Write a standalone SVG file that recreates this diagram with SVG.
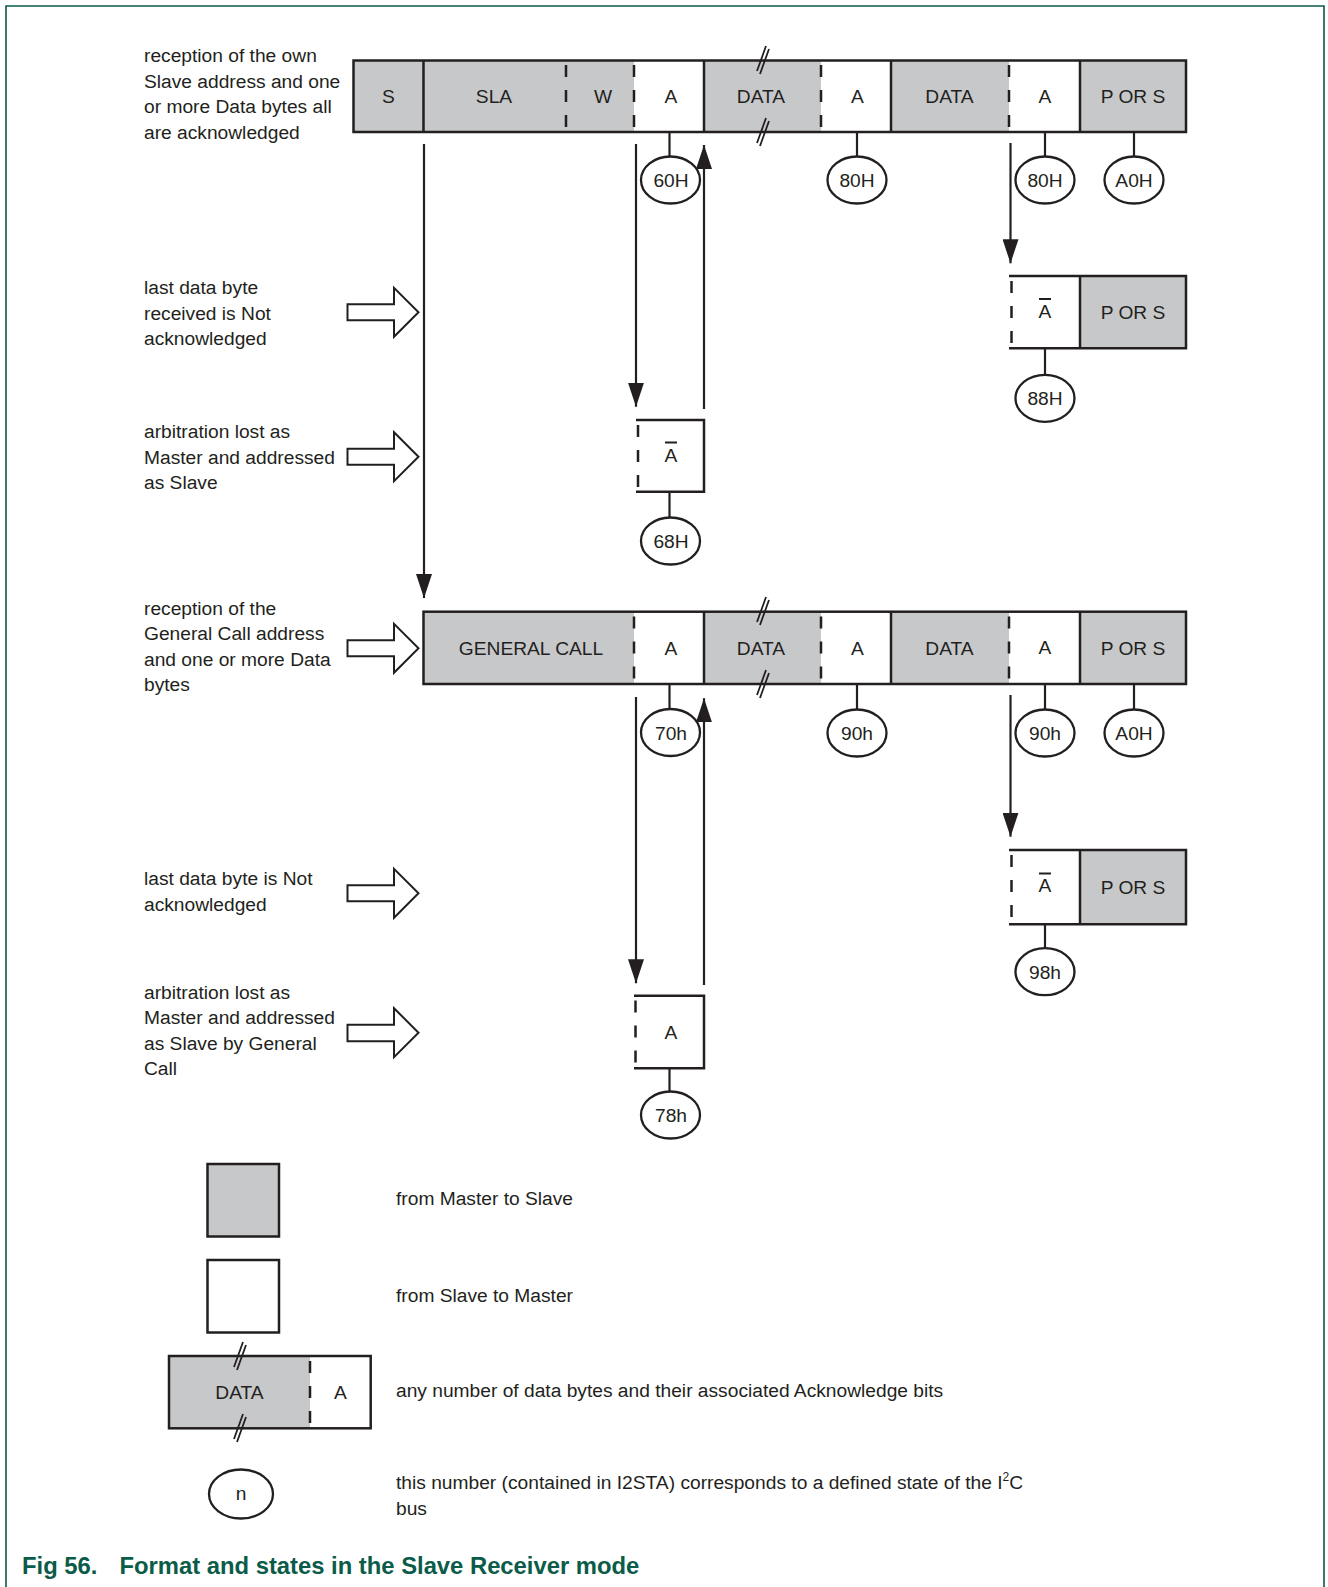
<svg xmlns="http://www.w3.org/2000/svg" width="1328" height="1587" viewBox="0 0 1328 1587">
<style>
.t{font-family:"Liberation Sans",Arial,Helvetica,sans-serif;font-size:19.2px;fill:#231f20}
.c{text-anchor:middle}
.g{fill:#c7c8ca;stroke:none}
.w{fill:#ffffff;stroke:none}
.ln{stroke:#231f20;stroke-width:2.5;fill:none}
.th{stroke:#231f20;stroke-width:2.2;fill:none}
.ds{stroke:#231f20;stroke-width:2.5;fill:none;stroke-dasharray:12 13}
.st{fill:#ffffff;stroke:#231f20;stroke-width:2.3}
.oa{fill:#ffffff;stroke:#231f20;stroke-width:2}
.bk{stroke:#231f20;stroke-width:1.8;fill:none}
.ol{stroke:#231f20;stroke-width:2}
.cap{font-family:"Liberation Sans",Arial,Helvetica,sans-serif;font-size:23.8px;font-weight:bold;fill:#0b5b49}
</style>
<defs>
<marker id="ah" markerUnits="userSpaceOnUse" markerWidth="24" markerHeight="16" viewBox="0 0 24 16" refX="24" refY="8" orient="auto">
<path d="M0,0 L24,8 L0,16 Z" fill="#231f20"/>
</marker>
</defs>

<rect width="1328" height="1587" fill="#ffffff"/>
<path d="M6,1587 V6 H1324 V1587" fill="none" stroke="#0b5b49" stroke-width="1.6"/>

<!-- left labels -->
<g id="lbl-own">
<text class="t" x="144" y="62">reception of the own</text>
<text class="t" x="144" y="87.5">Slave address and one</text>
<text class="t" x="144" y="113">or more Data bytes all</text>
<text class="t" x="144" y="138.5">are acknowledged</text>
</g>
<g id="lbl-nack1">
<text class="t" x="144" y="294">last data byte</text>
<text class="t" x="144" y="319.5">received is Not</text>
<text class="t" x="144" y="345">acknowledged</text>
</g>
<g id="lbl-arb1">
<text class="t" x="144" y="438">arbitration lost as</text>
<text class="t" x="144" y="463.5">Master and addressed</text>
<text class="t" x="144" y="489">as Slave</text>
</g>
<g id="lbl-gc">
<text class="t" x="144" y="614.5">reception of the</text>
<text class="t" x="144" y="640">General Call address</text>
<text class="t" x="144" y="665.5">and one or more Data</text>
<text class="t" x="144" y="691">bytes</text>
</g>
<g id="lbl-nack2">
<text class="t" x="144" y="885">last data byte is Not</text>
<text class="t" x="144" y="910.5">acknowledged</text>
</g>
<g id="lbl-arb2">
<text class="t" x="144" y="998.5">arbitration lost as</text>
<text class="t" x="144" y="1024">Master and addressed</text>
<text class="t" x="144" y="1049.5">as Slave by General</text>
<text class="t" x="144" y="1075">Call</text>
</g>

<!-- open block arrows -->
<g id="open-arrows">
<path class="oa" d="M347.5,304.3 H394 V287.8 L418.5,312.3 L394,336.8 V320.3 H347.5 Z"/>
<path class="oa" d="M347.5,448.7 H394 V432.2 L418.5,456.7 L394,481.2 V464.7 H347.5 Z"/>
<path class="oa" d="M347.5,640.3 H394 V623.8 L418.5,648.3 L394,672.8 V656.3 H347.5 Z"/>
<path class="oa" d="M347.5,885.3 H394 V868.8 L418.5,893.3 L394,917.8 V901.3 H347.5 Z"/>
<path class="oa" d="M347.5,1024.7 H394 V1008.2 L418.5,1032.7 L394,1057.2 V1041.2 H347.5 Z"/>
</g>

<!-- top frame bar -->
<g id="bar1">
<rect class="g" x="353.5" y="60.5" width="280.5" height="71.5"/>
<rect class="w" x="634" y="60.5" width="70" height="71.5"/>
<rect class="g" x="704" y="60.5" width="117" height="71.5"/>
<rect class="w" x="821" y="60.5" width="70" height="71.5"/>
<rect class="g" x="891" y="60.5" width="118" height="71.5"/>
<rect class="w" x="1009" y="60.5" width="71" height="71.5"/>
<rect class="g" x="1080" y="60.5" width="106" height="71.5"/>
<rect class="ln" x="353.5" y="60.5" width="832.5" height="71.5"/>
<line class="ln" x1="423.5" y1="60.5" x2="423.5" y2="132"/>
<line class="ln" x1="704" y1="60.5" x2="704" y2="132"/>
<line class="ln" x1="891" y1="60.5" x2="891" y2="132"/>
<line class="ln" x1="1080" y1="60.5" x2="1080" y2="132"/>
<line class="ds" x1="566" y1="65" x2="566" y2="128"/>
<line class="ds" x1="634" y1="65" x2="634" y2="128"/>
<line class="ds" x1="821" y1="65" x2="821" y2="128"/>
<line class="ds" x1="1009" y1="65" x2="1009" y2="128"/>
<text class="t c" x="388.5" y="102.5">S</text>
<text class="t c" x="494" y="102.5">SLA</text>
<text class="t c" x="603" y="102.5">W</text>
<text class="t c" x="671" y="102.5">A</text>
<text class="t c" x="761" y="102.5">DATA</text>
<text class="t c" x="857.5" y="102.5">A</text>
<text class="t c" x="949.5" y="102.5">DATA</text>
<text class="t c" x="1045" y="102.5">A</text>
<text class="t c" x="1133" y="102.5">P OR S</text>
<path class="bk" d="M757,71 L766,46 M760,74 L769,49 M757,143 L766,118 M760,146 L769,121"/>
</g>

<!-- top right NACK box -->
<g id="box-nack1">
<rect class="w" x="1010" y="276" width="70" height="72.3"/>
<rect class="g" x="1080" y="276" width="106" height="72.3"/>
<path class="ln" d="M1009,276 H1186 V348.3 H1009 M1080,276 V348.3"/>
<line class="ds" x1="1011.5" y1="281" x2="1011.5" y2="344"/>
<text class="t c" x="1045" y="318.3">A</text>
<line class="ol" x1="1039" y1="299" x2="1051" y2="299"/>
<text class="t c" x="1133" y="318.8">P OR S</text>
</g>

<!-- 68H box -->
<g id="box-68">
<path class="ln" d="M636,420 H704 V491.7 H636"/>
<line class="ds" x1="638" y1="425" x2="638" y2="488"/>
<text class="t c" x="671" y="461.7">A</text>
<line class="ol" x1="665" y1="442.5" x2="677" y2="442.5"/>
</g>

<!-- bottom frame bar -->
<g id="bar2">
<rect class="g" x="423.5" y="611.7" width="210.5" height="72.3"/>
<rect class="w" x="634" y="611.7" width="70" height="72.3"/>
<rect class="g" x="704" y="611.7" width="117" height="72.3"/>
<rect class="w" x="821" y="611.7" width="70" height="72.3"/>
<rect class="g" x="891" y="611.7" width="118" height="72.3"/>
<rect class="w" x="1009" y="611.7" width="71" height="72.3"/>
<rect class="g" x="1080" y="611.7" width="106" height="72.3"/>
<rect class="ln" x="423.5" y="611.7" width="762.5" height="72.3"/>
<line class="ln" x1="704" y1="611.7" x2="704" y2="684"/>
<line class="ln" x1="891" y1="611.7" x2="891" y2="684"/>
<line class="ln" x1="1080" y1="611.7" x2="1080" y2="684"/>
<line class="ds" x1="634" y1="616.5" x2="634" y2="679.5"/>
<line class="ds" x1="821" y1="616.5" x2="821" y2="679.5"/>
<line class="ds" x1="1009" y1="616.5" x2="1009" y2="679.5"/>
<text class="t c" x="531" y="655">GENERAL CALL</text>
<text class="t c" x="671" y="655">A</text>
<text class="t c" x="761" y="655">DATA</text>
<text class="t c" x="857.5" y="655">A</text>
<text class="t c" x="949.5" y="655">DATA</text>
<text class="t c" x="1045" y="654">A</text>
<text class="t c" x="1133" y="655">P OR S</text>
<path class="bk" d="M757,622 L766,597 M760,625 L769,600 M757,695 L766,670 M760,698 L769,673"/>
</g>

<!-- bottom right NACK box -->
<g id="box-nack2">
<rect class="w" x="1010" y="850" width="70" height="74.3"/>
<rect class="g" x="1080" y="850" width="106" height="74.3"/>
<path class="ln" d="M1009,850 H1186 V924.3 H1009 M1080,850 V924.3"/>
<line class="ds" x1="1011.5" y1="855" x2="1011.5" y2="920"/>
<text class="t c" x="1045" y="891.7">A</text>
<line class="ol" x1="1039" y1="873.5" x2="1051" y2="873.5"/>
<text class="t c" x="1133" y="893.5">P OR S</text>
</g>

<!-- 78h box -->
<g id="box-78">
<path class="ln" d="M634,995.7 H704 V1068.3 H634"/>
<line class="ds" x1="635.5" y1="1000.5" x2="635.5" y2="1064"/>
<text class="t c" x="671" y="1038.5">A</text>
</g>

<!-- connectors -->
<g id="connectors">
<line class="th" x1="424" y1="144" x2="424" y2="598" marker-end="url(#ah)"/>
<line class="th" x1="636" y1="144" x2="636" y2="406.7" marker-end="url(#ah)"/>
<line class="th" x1="704" y1="409" x2="704" y2="145" marker-end="url(#ah)"/>
<line class="th" x1="1010.5" y1="143" x2="1010.5" y2="263.3" marker-end="url(#ah)"/>
<line class="th" x1="636" y1="697" x2="636" y2="983.3" marker-end="url(#ah)"/>
<line class="th" x1="704" y1="985" x2="704" y2="698.3" marker-end="url(#ah)"/>
<line class="th" x1="1010.5" y1="695" x2="1010.5" y2="836.7" marker-end="url(#ah)"/>
<path class="th" d="M669.5,132 V156.5 M857,132 V156.5 M1045,132 V156.5 M1134,132 V156.5 M1045,348.3 V374.8 M669.5,491.7 V517.5 M669.5,684 V709 M857,684 V709.5 M1045,684 V709.5 M1134,684 V709.5 M1045,924.3 V948.2 M669.5,1068.3 V1091.5"/>
</g>

<!-- state circles -->
<g id="s-60H"><ellipse class="st" cx="670.5" cy="180" rx="29.5" ry="23.5"/><text class="t c" x="671" y="187">60H</text></g>
<g id="s-80H-a"><ellipse class="st" cx="857" cy="180" rx="29.5" ry="23.5"/><text class="t c" x="857" y="187">80H</text></g>
<g id="s-80H-b"><ellipse class="st" cx="1045" cy="180" rx="29.5" ry="23.5"/><text class="t c" x="1045" y="187">80H</text></g>
<g id="s-A0H-a"><ellipse class="st" cx="1134" cy="180" rx="29.5" ry="23.5"/><text class="t c" x="1134" y="187">A0H</text></g>
<g id="s-88H"><ellipse class="st" cx="1045" cy="398.3" rx="29.5" ry="23.5"/><text class="t c" x="1045" y="405.3">88H</text></g>
<g id="s-68H"><ellipse class="st" cx="670.5" cy="541" rx="29.5" ry="23.5"/><text class="t c" x="671" y="548">68H</text></g>
<g id="s-70h"><ellipse class="st" cx="670.5" cy="732.5" rx="29.5" ry="23.5"/><text class="t c" x="671" y="739.5">70h</text></g>
<g id="s-90h-a"><ellipse class="st" cx="857" cy="733" rx="29.5" ry="23.5"/><text class="t c" x="857" y="740">90h</text></g>
<g id="s-90h-b"><ellipse class="st" cx="1045" cy="733" rx="29.5" ry="23.5"/><text class="t c" x="1045" y="740">90h</text></g>
<g id="s-A0H-b"><ellipse class="st" cx="1134" cy="733" rx="29.5" ry="23.5"/><text class="t c" x="1134" y="740">A0H</text></g>
<g id="s-98h"><ellipse class="st" cx="1045" cy="971.7" rx="29.5" ry="23.5"/><text class="t c" x="1045" y="978.7">98h</text></g>
<g id="s-78h"><ellipse class="st" cx="670.5" cy="1115" rx="29.5" ry="23.5"/><text class="t c" x="671" y="1122">78h</text></g>

<!-- legend -->
<g id="leg-master">
<rect x="207.5" y="1164" width="71.5" height="72.5" fill="#c7c8ca" stroke="#231f20" stroke-width="2.5"/>
<text class="t" x="396" y="1205">from Master to Slave</text>
</g>
<g id="leg-slave">
<rect x="207.5" y="1260" width="71.5" height="72.5" fill="#ffffff" stroke="#231f20" stroke-width="2.5"/>
<text class="t" x="396" y="1301.5">from Slave to Master</text>
</g>
<g id="leg-data">
<rect class="g" x="169" y="1356" width="141" height="72.3"/>
<rect class="w" x="310" y="1356" width="60.7" height="72.3"/>
<rect class="ln" x="169" y="1356" width="201.7" height="72.3"/>
<line class="ds" x1="310" y1="1361" x2="310" y2="1424"/>
<text class="t c" x="239.5" y="1399">DATA</text>
<text class="t c" x="340.5" y="1399">A</text>
<path class="bk" d="M234,1367 L243,1342 M237,1370 L246,1345 M234,1439 L243,1414 M237,1442 L246,1417"/>
<text class="t" x="396" y="1397">any number of data bytes and their associated Acknowledge bits</text>
</g>
<g id="leg-state">
<ellipse class="st" cx="241" cy="1494" rx="32" ry="24.5"/>
<text class="t c" x="241" y="1499.5">n</text>
<text class="t" x="396" y="1489">this number (contained in I2STA) corresponds to a defined state of the I<tspan dy="-8" font-size="12">2</tspan><tspan dy="8">C</tspan></text>
<text class="t" x="396" y="1514.5">bus</text>
</g>

<g id="caption">
<text class="cap" x="22" y="1574">Fig 56.<tspan x="119.5">Format and states in the Slave Receiver mode</tspan></text>
</g>
</svg>
